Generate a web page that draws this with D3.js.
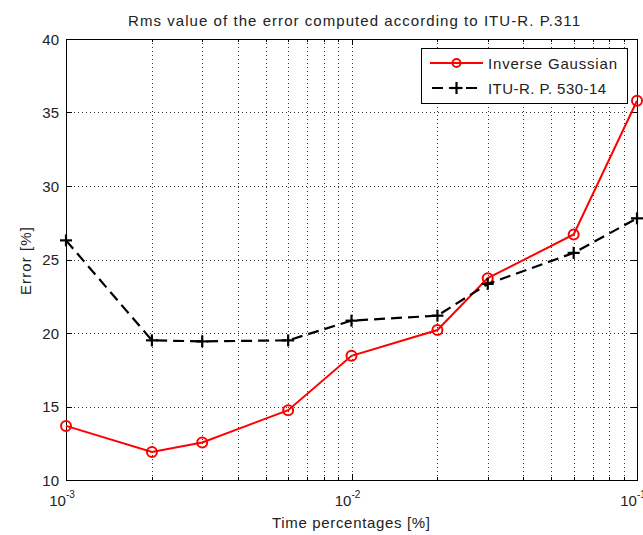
<!DOCTYPE html>
<html><head><meta charset="utf-8">
<script src="https://cdn.jsdelivr.net/npm/d3@7"></script>
<style>body{margin:0;background:#fff}svg{display:block}text{font-family:"Liberation Sans",Arial,sans-serif;fill:#222}</style>
</head><body><svg id="c" width="643" height="535"></svg>
<script>
const timePct = [0.001, 0.002, 0.003, 0.006, 0.01, 0.02, 0.03, 0.06, 0.1];
const invGauss = [13.68, 11.91, 12.55, 14.75, 18.45, 20.2, 23.73, 26.7, 35.8];
const ituP530 = [26.3, 19.5, 19.43, 19.5, 20.84, 21.18, 23.34, 25.45, 27.8];
const yTicks = [10, 15, 20, 25, 30, 35, 40];
const xTicks = [0.001, 0.01, 0.1];
const seriesNames = ["Inverse Gaussian", "ITU-R. P. 530-14"];

const svg = d3.select("#c");
const L = 66, R = 637, T = 39, B = 480;
const x = d3.scaleLog().domain([0.001, 0.1]).range([L, R]);
const y = d3.scaleLinear().domain([10, 40]).range([B, T]);

const minor = [];
[0.001, 0.01].forEach(d => { for (let k = 2; k <= 9; k++) minor.push(d * k); });

const grid = svg.append("g").attr("stroke", "#333").attr("stroke-width", 1).attr("stroke-dasharray", "1,3");
minor.concat([0.01]).forEach(v => grid.append("line").attr("x1", Math.round(x(v)) + 0.5).attr("x2", Math.round(x(v)) + 0.5).attr("y1", T).attr("y2", B));
yTicks.slice(1, -1).forEach(v => grid.append("line").attr("y1", Math.round(y(v)) + 0.5).attr("y2", Math.round(y(v)) + 0.5).attr("x1", L).attr("x2", R));

const tk = svg.append("g").attr("stroke", "#000").attr("stroke-width", 1);
xTicks.forEach(v => {
  const px = Math.round(x(v)) + 0.5;
  tk.append("line").attr("x1", px).attr("x2", px).attr("y1", B).attr("y2", B - 6);
  tk.append("line").attr("x1", px).attr("x2", px).attr("y1", T).attr("y2", T + 6);
});
minor.forEach(v => {
  const px = Math.round(x(v)) + 0.5;
  tk.append("line").attr("x1", px).attr("x2", px).attr("y1", B).attr("y2", B - 3);
  tk.append("line").attr("x1", px).attr("x2", px).attr("y1", T).attr("y2", T + 3);
});
yTicks.forEach(v => {
  const py = Math.round(y(v)) + 0.5;
  tk.append("line").attr("x1", L).attr("x2", L + 6).attr("y1", py).attr("y2", py);
  tk.append("line").attr("x1", R).attr("x2", R - 6).attr("y1", py).attr("y2", py);
});
svg.append("rect").attr("x", L + 0.5).attr("y", T + 0.5).attr("width", R - L).attr("height", B - T)
  .attr("fill", "none").attr("stroke", "#000").attr("stroke-width", 1);

yTicks.forEach(v => svg.append("text").attr("x", L - 7).attr("y", y(v) + 5.5).attr("text-anchor", "end")
  .attr("font-size", 15).text(v));
xTicks.forEach(v => {
  const t = svg.append("text").attr("x", x(v) - 4).attr("y", 506).attr("text-anchor", "middle").attr("font-size", 15);
  t.append("tspan").text("10");
  t.append("tspan").attr("dy", -8).attr("font-size", 10).text(Math.round(Math.log10(v)));
});

svg.append("text").attr("x", 354).attr("y", 26).attr("text-anchor", "middle").attr("font-size", 15)
  .attr("textLength", 452).text("Rms value of the error computed according to ITU-R. P.311");
svg.append("text").attr("x", 351).attr("y", 528).attr("text-anchor", "middle").attr("font-size", 15)
  .attr("textLength", 158).text("Time percentages [%]");
svg.append("text").attr("transform", "translate(31,261) rotate(-90)").attr("text-anchor", "middle").attr("font-size", 15)
  .attr("textLength", 68).text("Error [%]");

const line = d3.line().x((d, i) => x(timePct[i])).y(d => y(d));
const plot = svg.append("g");
plot.append("path").datum(invGauss).attr("d", line).attr("fill", "none").attr("stroke", "#ff0000").attr("stroke-width", 2);
plot.selectAll("circle.ig").data(invGauss).join("circle").attr("cx", (d, i) => x(timePct[i])).attr("cy", d => y(d))
  .attr("r", 5).attr("fill", "none").attr("stroke", "#ff0000").attr("stroke-width", 2);
plot.append("path").datum(ituP530).attr("d", line).attr("fill", "none").attr("stroke", "#000").attr("stroke-width", 2.2)
  .attr("stroke-dasharray", "11,6");
const plus = (g, cx, cy, s) => {
  g.append("line").attr("x1", cx - s).attr("x2", cx + s).attr("y1", cy).attr("y2", cy).attr("stroke", "#000").attr("stroke-width", 2.2);
  g.append("line").attr("x1", cx).attr("x2", cx).attr("y1", cy - s).attr("y2", cy + s).attr("stroke", "#000").attr("stroke-width", 2.2);
};
ituP530.forEach((d, i) => plus(plot, x(timePct[i]), y(d), 6));

const lg = svg.append("g");
lg.append("rect").attr("x", 421.5).attr("y", 48.5).attr("width", 206).attr("height", 55).attr("fill", "#fff").attr("stroke", "#000");
lg.append("line").attr("x1", 430).attr("x2", 483).attr("y1", 63).attr("y2", 63).attr("stroke", "#ff0000").attr("stroke-width", 2);
lg.append("circle").attr("cx", 456.5).attr("cy", 63).attr("r", 4).attr("fill", "none").attr("stroke", "#ff0000").attr("stroke-width", 2);
lg.append("line").attr("x1", 430).attr("x2", 483).attr("y1", 88).attr("y2", 88).attr("stroke", "#000").attr("stroke-width", 2.2).attr("stroke-dasharray", "11,6").attr("stroke-dashoffset", -2);
plus(lg, 456.5, 88, 6);
lg.append("text").attr("x", 488).attr("y", 68.5).attr("font-size", 15).attr("textLength", 129).text(seriesNames[0]);
lg.append("text").attr("x", 488).attr("y", 93.5).attr("font-size", 15).attr("textLength", 118).text(seriesNames[1]);
</script></body></html>
